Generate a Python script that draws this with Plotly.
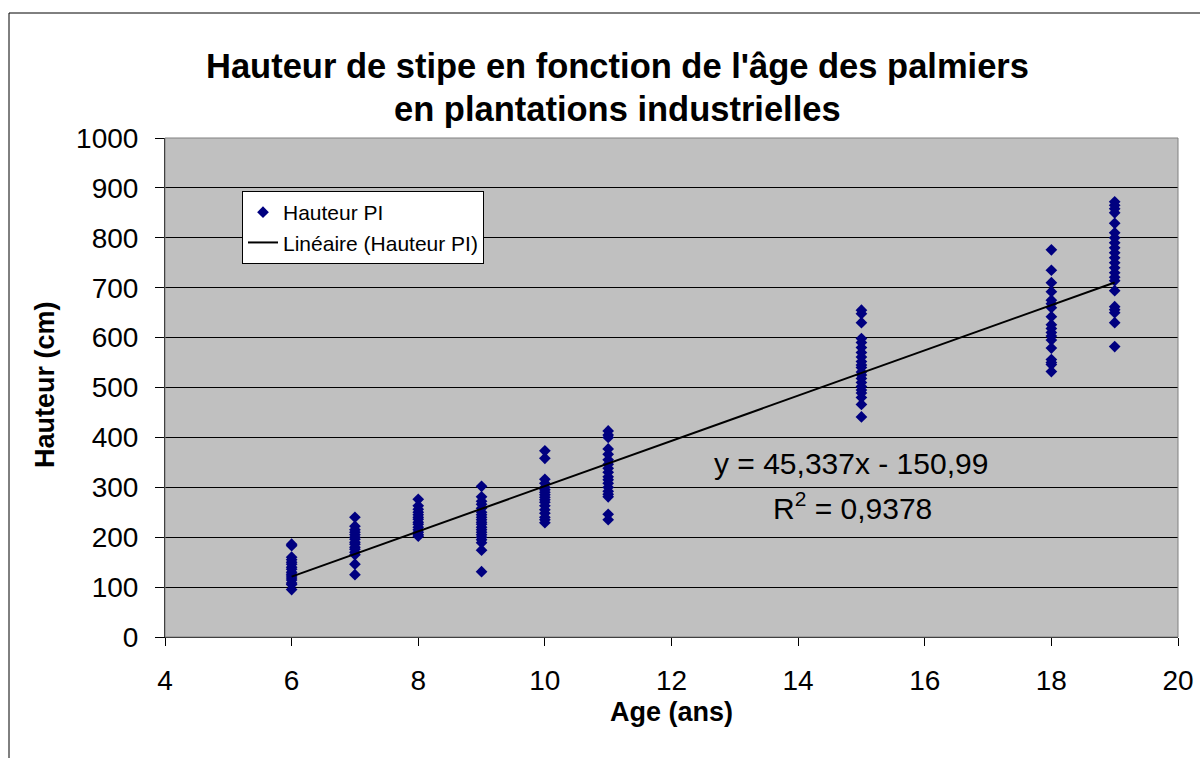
import plotly.graph_objects as go

ages = [6, 7, 8, 9, 10, 11, 15, 18, 19]

h6 = [186, 183, 160, 155, 150, 146, 140, 136, 130, 126, 122, 118, 114, 108, 105, 95]
h7 = [240, 222, 215, 210, 205, 200, 196, 190, 186, 180, 176, 170, 165, 146, 125]
h8 = [276, 263, 256, 250, 245, 240, 236, 230, 226, 220, 215, 210, 205, 202]
h9 = [302, 281, 272, 266, 258, 250, 245, 240, 235, 230, 226, 220, 215, 210, 205,
      200, 195, 189, 174, 131]
h10 = [373, 358, 316, 308, 300, 295, 290, 285, 280, 275, 270, 263, 255, 248, 240,
       235, 229]
h11 = [413, 405, 400, 377, 366, 355, 346, 338, 330, 321, 315, 308, 300, 292, 286,
       281, 246, 235]
h15 = [655, 648, 630, 598, 590, 580, 570, 561, 552, 545, 540, 531, 525, 518, 510,
       502, 495, 489, 480, 466, 441]
h18 = [776, 735, 710, 692, 675, 668, 660, 642, 626, 618, 610, 603, 595, 579, 556,
       550, 546, 532]
h19 = [872, 865, 858, 850, 829, 810, 800, 790, 780, 770, 760, 750, 740, 730, 721,
       714, 694, 662, 656, 650, 630, 582]

heights = [h6, h7, h8, h9, h10, h11, h15, h18, h19]

# linear trend printed on the chart
slope = 45.337
intercept = -150.99
trend_x = [min(ages), max(ages)]

x_pts = []
y_pts = []
for a, hs in zip(ages, heights):
    x_pts += [a] * len(hs)
    y_pts += hs

trend_y = [slope * x + intercept for x in trend_x]

FONT = "Arial, Liberation Sans, sans-serif"

# pixel -> paper helpers (plot area is 165..1178 x 138..637)
def px(x):
    return (x - 165) / 1013

def py(y):
    return (637 - y) / 499

fig = go.Figure()
fig.add_trace(go.Scatter(
    x=x_pts, y=y_pts,
    mode='markers',
    name='Hauteur PI',
    marker=dict(symbol='diamond', size=9, color='#000080',
                line=dict(width=0))
))
fig.add_trace(go.Scatter(
    x=trend_x, y=trend_y,
    mode='lines',
    name='Linéaire (Hauteur PI)',
    line=dict(color='black', width=2)
))

fig.update_layout(
    width=1200, height=758,
    margin=dict(l=165, r=22, t=138, b=121),
    paper_bgcolor='white',
    plot_bgcolor='#C0C0C0',
    font=dict(family=FONT, color='black'),
    xaxis=dict(
        range=[4, 20], dtick=2, tick0=4,
        showgrid=False, zeroline=False, automargin=False,
        showline=True, linecolor='black', linewidth=1,
        ticks='outside', ticklen=8, tickcolor='black',
        tickfont=dict(size=28), ticklabelstandoff=10
    ),
    yaxis=dict(
        range=[0, 1000], dtick=100, tick0=0,
        showgrid=True, gridcolor='black', gridwidth=1,
        zeroline=False, automargin=False,
        showline=True, linecolor='black', linewidth=1,
        ticks='outside', ticklen=9, tickcolor='black',
        tickfont=dict(size=28), ticklabelstandoff=11
    ),
    legend=dict(
        x=px(242), y=py(191),
        xanchor='left', yanchor='top',
        bgcolor='white', bordercolor='black', borderwidth=1,
        font=dict(size=21, family=FONT),
        tracegroupgap=0
    ),
    showlegend=True
)

# chart title, two lines
fig.add_annotation(text="<b>Hauteur de stipe en fonction de l'âge des palmiers</b>",
                   xref='paper', yref='paper', x=px(617.5), y=py(66),
                   xanchor='center', yanchor='middle', showarrow=False,
                   font=dict(size=34.5, family=FONT))
fig.add_annotation(text="<b>en plantations industrielles</b>",
                   xref='paper', yref='paper', x=px(617.5), y=py(109),
                   xanchor='center', yanchor='middle', showarrow=False,
                   font=dict(size=34.5, family=FONT))

# axis titles
fig.add_annotation(text='<b>Hauteur (cm)</b>', xref='paper', yref='paper',
                   x=px(45), y=py(385), textangle=-90,
                   xanchor='center', yanchor='middle',
                   showarrow=False, font=dict(size=27, family=FONT))
fig.add_annotation(text='<b>Age (ans)</b>', xref='paper', yref='paper',
                   x=px(671), y=py(712),
                   xanchor='center', yanchor='middle',
                   showarrow=False, font=dict(size=27, family=FONT))

# trend equation
fig.add_annotation(text='y = 45,337x - 150,99', x=14.83, y=348,
                   showarrow=False, font=dict(size=30, family=FONT))
fig.add_annotation(text='R<sup>2</sup> = 0,9378', x=14.86, y=262,
                   showarrow=False, font=dict(size=30, family=FONT))

# plot area border and outer chart frame
fig.add_shape(type='rect', xref='paper', yref='paper', x0=0, x1=1, y0=0, y1=1,
              line=dict(color='#808080', width=1), layer='above')
fig.add_shape(type='rect', xref='paper', yref='paper',
              x0=px(9), x1=1.2, y0=-0.5, y1=py(13),
              line=dict(color='black', width=1))

fig.write_html("out.html", config={'displayModeBar': False},
               post_script="document.body.style.margin='0';")
